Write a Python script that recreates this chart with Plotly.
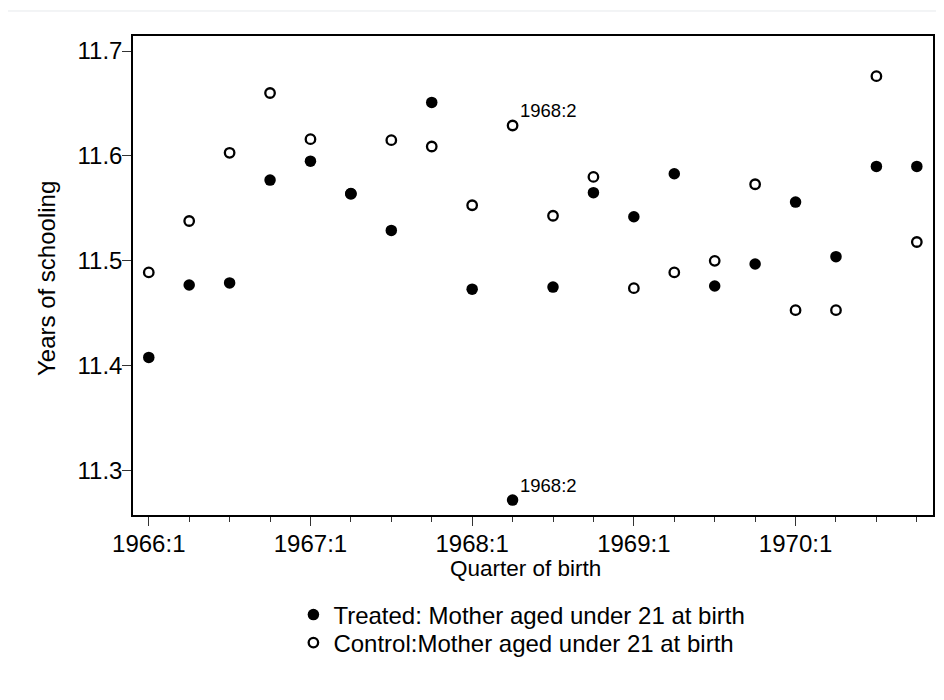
import plotly.graph_objects as go

quarters = ["1966:1", "1966:2", "1966:3", "1966:4",
            "1967:1", "1967:2", "1967:3", "1967:4",
            "1968:1", "1968:2", "1968:3", "1968:4",
            "1969:1", "1969:2", "1969:3", "1969:4",
            "1970:1", "1970:2", "1970:3", "1970:4"]

treated = [11.408, 11.477, 11.479, 11.577,
           11.595, 11.564, 11.529, 11.651,
           11.473, 11.272, 11.475, 11.565,
           11.542, 11.583, 11.476, 11.497,
           11.556, 11.504, 11.590, 11.590]

control = [11.489, 11.538, 11.603, 11.660,
           11.616, 11.564, 11.615, 11.609,
           11.553, 11.629, 11.543, 11.580,
           11.474, 11.489, 11.500, 11.573,
           11.453, 11.453, 11.676, 11.518]

tick_labels = ["1966:1", "1967:1", "1968:1", "1969:1", "1970:1"]
y_ticks = [11.3, 11.4, 11.5, 11.6, 11.7]
label_quarter = "1968:2"

x_idx = list(range(len(quarters)))
tick_idx = [quarters.index(t) for t in tick_labels]
lab_i = quarters.index(label_quarter)

FONT = "Liberation Sans, Arial, sans-serif"

fig = go.Figure()
fig.add_trace(go.Scatter(
    x=x_idx, y=control, mode="markers",
    name="Control:Mother aged under 21 at birth",
    marker=dict(symbol="circle-open", size=9.5, color="black",
                line=dict(width=2.3, color="black")),
    legend="legend2",
))
fig.add_trace(go.Scatter(
    x=x_idx, y=treated, mode="markers",
    name="Treated: Mother aged under 21 at birth",
    marker=dict(symbol="circle", size=11.5, color="black"),
    legend="legend",
))

for val in (control[lab_i], treated[lab_i]):
    fig.add_annotation(x=lab_i, y=val, text=label_quarter, showarrow=False,
                       xanchor="left", yanchor="middle", xshift=5, yshift=15,
                       font=dict(size=18.5, color="black", family=FONT))

# axis titles
fig.add_annotation(xref="paper", yref="paper", x=0.491, y=0, yshift=-53,
                   text="Quarter of birth", showarrow=False,
                   xanchor="center", yanchor="middle",
                   font=dict(size=22.5, color="black", family=FONT))
fig.add_annotation(xref="paper", yref="paper", x=0, xshift=-86, y=0.4927,
                   text="Years of schooling", showarrow=False, textangle=-90,
                   xanchor="center", yanchor="middle",
                   font=dict(size=24, color="black", family=FONT))

fig.add_shape(type="line", xref="paper", yref="paper",
              x0=-0.16, x1=1.02, y0=1.0522, y1=1.0522,
              line=dict(color="#e6e9ec", width=1))

leg_common = dict(x=0.2005, xanchor="left", yanchor="middle",
                  font=dict(size=24, family=FONT, color="black"),
                  bgcolor="rgba(0,0,0,0)", itemwidth=30)

fig.update_layout(
    width=936, height=692,
    margin=dict(l=125, r=9, t=28, b=185),
    paper_bgcolor="white", plot_bgcolor="white",
    font=dict(family=FONT, color="black", size=24),
    showlegend=True,
    legend=dict(y=-0.2088, **leg_common),
    legend2=dict(y=-0.2672, **leg_common),
    xaxis=dict(
        range=[-0.39, 19.4], tickmode="array", tickvals=tick_idx,
        ticktext=tick_labels, ticks="outside", ticklen=9, tickwidth=1,
        tickcolor="#333", showgrid=False, zeroline=False,
        showline=True, linecolor="black", linewidth=1.5, mirror=True,
        tickfont=dict(size=24), ticklabelstandoff=-3,
        minor=dict(tickmode="linear", tick0=0, dtick=1, ticks="outside",
                   ticklen=5, tickwidth=1, tickcolor="#333", showgrid=False),
    ),
    yaxis=dict(
        range=[11.2578, 11.7143], tickmode="array",
        tickvals=y_ticks, ticktext=[f"{v:.1f}" for v in y_ticks],
        ticks="outside", ticklen=9, tickwidth=1, tickcolor="#333",
        showgrid=False, zeroline=False, ticklabelstandoff=-5,
        showline=True, linecolor="black", linewidth=1.5, mirror=True,
        tickfont=dict(size=24),
    ),
)

fig.write_html("out.html")
